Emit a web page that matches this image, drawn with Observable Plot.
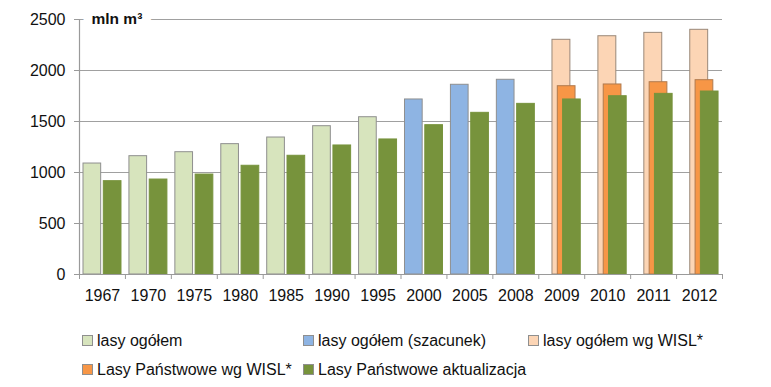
<!DOCTYPE html>
<html>
<head>
<meta charset="utf-8">
<script src="https://cdn.jsdelivr.net/npm/d3@7"></script>
<script src="https://cdn.jsdelivr.net/npm/@observablehq/plot@0.6"></script>
<style>
  html, body { margin: 0; padding: 0; background: #fff; }
  #chart svg { display: block; }
  #chart g[aria-label="y-axis tick"], #chart g[aria-label="x-axis tick"] { stroke: #9a9a9a; }
  .legend { font-family: "Liberation Sans", Arial, sans-serif; font-size: 16px; line-height: 29px; color: #111; padding: 14px 0 0 82px; }
  .legend .row { white-space: nowrap; height: 29px; }
  .legend .item { display: inline-block; }
  .legend .c1 { width: 221px; }
  .legend .c2 { width: 225px; }
  .legend .sw { display: inline-block; width: 9px; height: 9px; border: 1px solid #8f8f8f; margin-right: 4px; vertical-align: baseline; }
</style>
</head>
<body>
<div id="chart"></div>
<script>
// ---- data ----
const years = ["1967","1970","1975","1980","1985","1990","1995","2000","2005","2008","2009","2010","2011","2012"];
const lasyOgolem          = [1088,1160,1199,1278,1343,1454,1542,null,null,null,null,null,null,null];
const lasyOgolemSzacunek  = [null,null,null,null,null,null,null,1716,1860,1909,null,null,null,null];
const lasyOgolemWISL      = [null,null,null,null,null,null,null,null,null,null,2301,2336,2369,2399];
const lpWISL              = [null,null,null,null,null,null,null,null,null,null,1846,1863,1885,1905];
const lpAktualizacja      = [915,931,980,1066,1164,1265,1324,1464,1585,1673,1716,1748,1771,1794];
const yTicks = [0, 500, 1000, 1500, 2000, 2500];
const unitLabel = "mln m³";

// ---- series definitions (styling / slot within category) ----
const series = [
  {key: "lasy ogółem",                 values: lasyOgolem,         fill: "#d7e4bd", stroke: "#8f8f8f", slot: [0.087, 0.472]},
  {key: "lasy ogółem (szacunek)",      values: lasyOgolemSzacunek, fill: "#8eb4e3", stroke: "#8f8f8f", slot: [0.087, 0.472]},
  {key: "lasy ogółem wg WISL*",        values: lasyOgolemWISL,     fill: "#fcd5b5", stroke: "#9a8878", slot: [0.298, 0.688]},
  {key: "Lasy Państwowe wg WISL*",     values: lpWISL,             fill: "#f79646", stroke: "#b07a4e", slot: [0.414, 0.800]},
  {key: "Lasy Państwowe aktualizacja", values: lpAktualizacja,     fill: "#77933c", stroke: "#77933c", slot: [0.529, 0.914]}
];

const rows = [];
for (const s of series) {
  s.values.forEach((v, i) => {
    if (v != null) rows.push({i, year: years[i], value: v, series: s.key, fill: s.fill, stroke: s.stroke, slot: s.slot});
  });
}

const n = years.length;
const chart = Plot.plot({
  width: 771,
  height: 312,
  marginLeft: 79,
  marginRight: 49,
  marginTop: 19,
  marginBottom: 38,
  style: {fontFamily: "Liberation Sans, Arial, sans-serif", fontSize: "16px", color: "#111", background: "#fff"},
  x: {type: "linear", domain: [0, n], axis: null, label: null},
  y: {domain: [0, 2500], axis: null, label: null},
  marks: [
    Plot.ruleY(yTicks.filter(d => d > 0), {x1: 0, x2: n, stroke: "#a0a0a0", strokeWidth: 1}),
    Plot.text([unitLabel], {x: 0, y: 2500, dx: 12, textAnchor: "start", fontWeight: "bold", fontSize: 15.5, fill: "#111", stroke: "white", strokeWidth: 18, paintOrder: "stroke"}),
    Plot.rect(rows, {
      x1: d => d.i + d.slot[0],
      x2: d => d.i + d.slot[1],
      y1: 0,
      y2: "value",
      fill: d => d.fill,
      stroke: d => d.stroke,
      strokeWidth: 1
    }),
    Plot.ruleX([0], {y1: 0, y2: 2500, stroke: "#9a9a9a", strokeWidth: 1.2}),
    Plot.ruleY([0], {x1: 0, x2: n, stroke: "#9a9a9a", strokeWidth: 1.2}),
    Plot.axisY({ticks: yTicks, tickSize: 5, tickPadding: 9, tickFormat: d => String(d), label: null, fill: "#111"}),
    Plot.axisX({ticks: d3.range(n + 1), tickSize: 5, tickFormat: () => "", label: null}),
    Plot.axisX({ticks: years.map((_, i) => i + 0.5), tickSize: 0, tickPadding: 15, tickFormat: d => years[Math.floor(d)], label: null, fill: "#111"})
  ]
});
document.getElementById("chart").appendChild(chart);

// ---- legend ----
const legendOrder = [
  [series[0], series[1], series[2]],
  [series[3], series[4]]
];
const legend = document.createElement("div");
legend.className = "legend";
for (const r of legendOrder) {
  const row = document.createElement("div");
  row.className = "row";
  r.forEach((s, j) => {
    const item = document.createElement("span");
    item.className = "item" + (j === 0 ? " c1" : j === 1 ? " c2" : "");
    const sw = document.createElement("span");
    sw.className = "sw";
    sw.style.background = s.fill;
    item.appendChild(sw);
    item.appendChild(document.createTextNode(s.key));
    row.appendChild(item);
  });
  legend.appendChild(row);
}
document.getElementById("chart").appendChild(legend);
</script>
</body>
</html>
